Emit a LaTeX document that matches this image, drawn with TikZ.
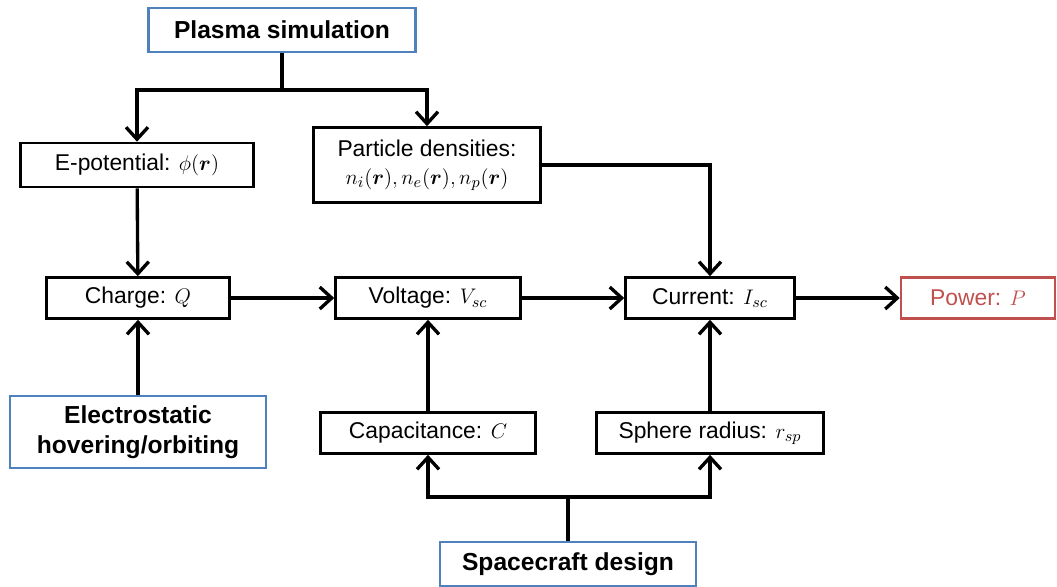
\documentclass[tikz,border=0pt]{standalone}
\usepackage{fontspec}
\setmainfont{Liberation Sans}
\usepackage{amsmath}
\usepackage{bm}
\usetikzlibrary{arrows.meta, positioning, calc}
\definecolor{FrameBlue}{HTML}{4F81BD}
\definecolor{FrameRed}{HTML}{C0504D}
\tikzset{
  qbox/.style={draw=black, line width=1.5pt, align=center, inner sep=2pt,
    minimum height=0.82cm, font=\fontsize{13}{16}\selectfont},
  ibox/.style={draw=FrameBlue, line width=1.2pt, align=center, inner sep=2pt,
    minimum height=0.88cm, font=\fontsize{14}{17}\selectfont\bfseries},
  obox/.style={qbox, draw=FrameRed, text=FrameRed},
  flow/.style={-{Straight Barb[length=2.4mm, width=4.4mm]}, line width=1.9pt},
  link/.style={line width=1.9pt},
}

\begin{document}
\begin{tikzpicture}[x=0.02cm, y=-0.02cm]
    \useasboundingbox (0,0) rectangle (1057,586);
    % inputs
    \node[ibox, minimum width=5.34cm] (plasma) at (282,30) {Plasma simulation};
    \node[ibox, minimum width=5.12cm, minimum height=1.44cm] (hover) at (138,432) {Electrostatic\\hovering/orbiting};
    \node[ibox, minimum width=5.12cm] (craft) at (568,564) {Spacecraft design};
    % quantities
    \node[qbox, minimum width=4.66cm, minimum height=0.88cm] (epot) at (137,165) {E-potential: $\phi(\bm{r})$};
    \node[qbox, minimum width=4.54cm, minimum height=1.5cm] (dens) at (427,165) {Particle densities:\\$n_i(\bm{r}),n_e(\bm{r}),n_p(\bm{r})$};
    \node[qbox, minimum width=3.66cm] (charge) at (138,298) {Charge: $Q$};
    \node[qbox, minimum width=3.7cm] (volt) at (428,298) {Voltage: $V_{sc}$};
    \node[qbox, minimum width=3.38cm] (curr) at (710,298) {Current: $I_{sc}$};
    \node[obox, minimum width=3.08cm] (power) at (978,298) {Power: $P$};
    \node[qbox, minimum width=4.3cm] (cap) at (428,433) {Capacitance: $C$};
    \node[qbox, minimum width=4.54cm] (radius) at (710,433) {Sphere radius: $r_{sp}$};
    % connectors
    \coordinate (split) at (plasma.south |- 0,90);
    \coordinate (join) at (craft.north |- 0,497);
    \draw[link] (plasma.south) -- (split);
    \draw[flow] (split) -| (epot.north);
    \draw[flow] (split) -| (dens.north);
    \draw[flow] (dens.east) -| (curr.north);
    \draw[flow] (epot) -- (charge);
    \draw[flow] (hover) -- (charge);
    \draw[flow] (charge) -- (volt);
    \draw[flow] (volt) -- (curr);
    \draw[flow] (curr) -- (power);
    \draw[flow] (cap) -- (volt);
    \draw[flow] (radius) -- (curr);
    \draw[link] (craft.north) -- (join);
    \draw[flow] (join) -| (cap.south);
    \draw[flow] (join) -| (radius.south);
\end{tikzpicture}
\end{document}
